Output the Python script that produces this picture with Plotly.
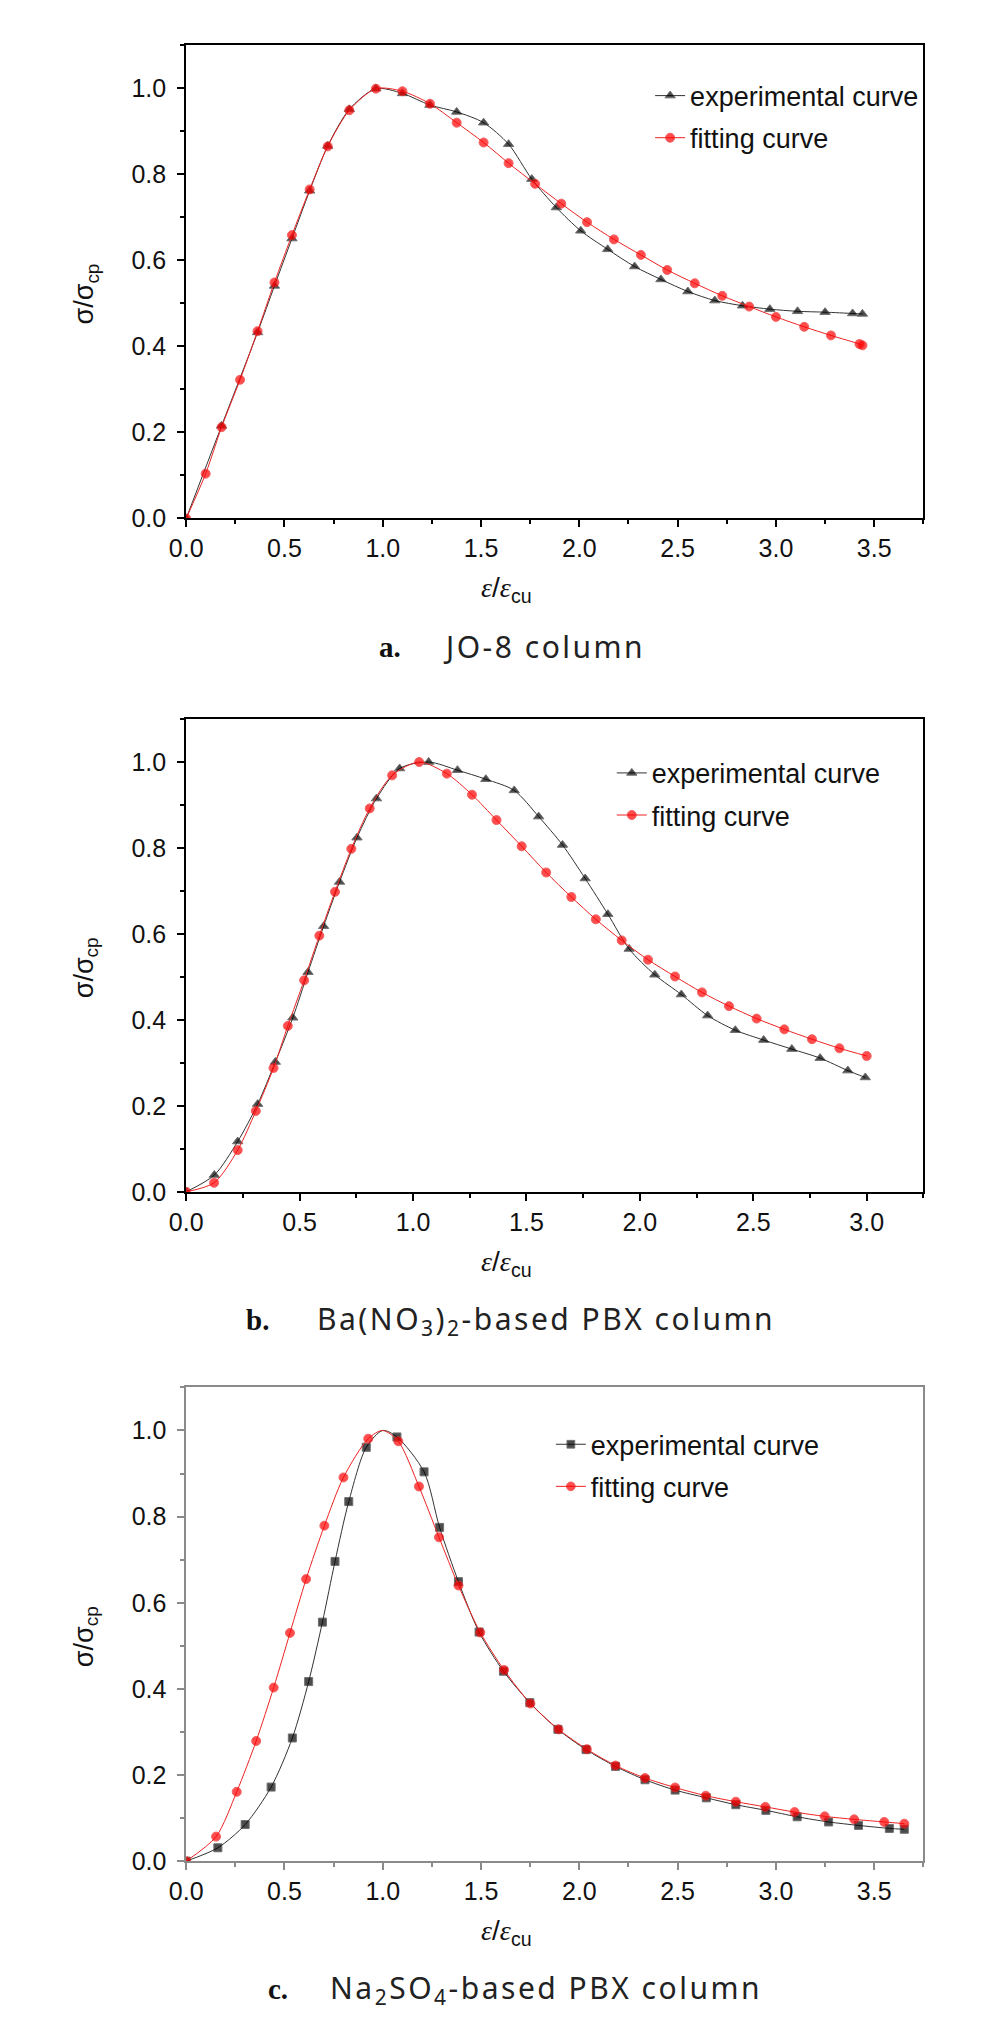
import plotly.graph_objects as go

# ---- data (x = eps/eps_cu, y = sigma/sigma_cp) ----

# a. JO-8 column
a_exp_x = [0.0, 0.18, 0.363, 0.449, 0.538, 0.628, 0.72, 0.83, 0.965, 1.10, 1.24, 1.376, 1.513,
           1.64, 1.758, 1.883, 2.007, 2.144, 2.281, 2.415, 2.552, 2.689, 2.83, 2.969, 3.11,
           3.25, 3.39, 3.44]
a_exp_y = [0.0, 0.215, 0.432, 0.54, 0.65, 0.761, 0.865, 0.95, 0.998, 0.987, 0.96, 0.944, 0.919,
           0.869, 0.788, 0.722, 0.668, 0.625, 0.585, 0.555, 0.527, 0.506, 0.494, 0.486, 0.481,
           0.479, 0.476, 0.475]
a_fit_x = [0.0, 0.099, 0.18, 0.274, 0.363, 0.449, 0.538, 0.628, 0.72, 0.83, 0.965, 1.10, 1.24,
           1.376, 1.513, 1.64, 1.775, 1.908, 2.039, 2.176, 2.313, 2.447, 2.587, 2.727, 2.864,
           3.0, 3.144, 3.28, 3.425, 3.44]
a_fit_y = [0.0, 0.104, 0.212, 0.322, 0.435, 0.548, 0.658, 0.764, 0.864, 0.948, 0.998, 0.992,
           0.963, 0.919, 0.873, 0.825, 0.777, 0.731, 0.688, 0.648, 0.612, 0.577, 0.546, 0.517,
           0.492, 0.468, 0.445, 0.425, 0.405, 0.402]

# b. Ba(NO3)2-based PBX column
b_exp_x = [0.0, 0.124, 0.227, 0.315, 0.393, 0.47, 0.537, 0.606, 0.676, 0.753, 0.839, 0.941,
           1.069, 1.196, 1.321, 1.446, 1.554, 1.659, 1.759, 1.859, 1.953, 2.066, 2.183, 2.299,
           2.421, 2.546, 2.67, 2.795, 2.917, 2.994]
b_exp_y = [0.0, 0.039, 0.117, 0.204, 0.302, 0.405, 0.511, 0.618, 0.721, 0.824, 0.915, 0.985,
           1.0, 0.981, 0.960, 0.934, 0.873, 0.807, 0.729, 0.646, 0.565, 0.505, 0.459, 0.410,
           0.376, 0.353, 0.332, 0.311, 0.282, 0.266]
b_fit_x = [0.0, 0.123, 0.227, 0.307, 0.385, 0.448, 0.52, 0.587, 0.656, 0.728, 0.809, 0.908,
           1.027, 1.149, 1.26, 1.368, 1.479, 1.587, 1.698, 1.806, 1.92, 2.036, 2.155, 2.274,
           2.393, 2.515, 2.637, 2.759, 2.88, 3.0]
b_fit_y = [0.0, 0.021, 0.097, 0.188, 0.288, 0.386, 0.492, 0.596, 0.698, 0.798, 0.892, 0.969,
           1.0, 0.973, 0.924, 0.865, 0.804, 0.743, 0.686, 0.634, 0.585, 0.540, 0.501, 0.464,
           0.432, 0.403, 0.378, 0.355, 0.334, 0.316]

# c. Na2SO4-based PBX column (curves pass the normalised peak (1, 1), drawn without a marker)
c_exp_x = [0.0, 0.161, 0.30, 0.432, 0.54, 0.623, 0.693, 0.757, 0.827, 0.916, 1.0, 1.072, 1.21,
           1.289, 1.385, 1.49, 1.614, 1.748, 1.891, 2.034, 2.184, 2.334, 2.487, 2.646, 2.796,
           2.949, 3.108, 3.268, 3.42, 3.577, 3.653]
c_exp_y = [0.0, 0.031, 0.085, 0.172, 0.286, 0.417, 0.555, 0.696, 0.835, 0.961, 1.0, 0.985, 0.904,
           0.775, 0.649, 0.532, 0.441, 0.368, 0.306, 0.259, 0.220, 0.189, 0.165, 0.147, 0.131,
           0.118, 0.103, 0.091, 0.083, 0.076, 0.074]
c_fit_x = [0.0, 0.152, 0.257, 0.356, 0.445, 0.528, 0.61, 0.703, 0.80, 0.926, 1.0, 1.079, 1.184,
           1.286, 1.385, 1.496, 1.617, 1.751, 1.894, 2.038, 2.184, 2.334, 2.487, 2.643, 2.796,
           2.946, 3.095, 3.248, 3.398, 3.551, 3.653]
c_fit_y = [0.0, 0.057, 0.161, 0.279, 0.403, 0.530, 0.655, 0.779, 0.891, 0.981, 1.0, 0.975, 0.870,
           0.752, 0.640, 0.531, 0.444, 0.366, 0.306, 0.260, 0.222, 0.193, 0.171, 0.152, 0.138,
           0.126, 0.114, 0.104, 0.097, 0.091, 0.087]
c_unmarked = (1.0, 1.0)

series_names = ["experimental curve", "fitting curve"]
captions = [("a.", "JO-8 column"),
            ("b.", "Ba(NO<sub>3</sub>)<sub>2</sub>-based PBX column"),
            ("c.", "Na<sub>2</sub>SO<sub>4</sub>-based PBX column")]

# ---- layout in pixels ----
W, H = 994, 2032
SANS = "Liberation Sans, Arial, sans-serif"
CAP_FONT = "Noto Sans, Open Sans, sans-serif"


def fx(p):
    return p / W


def fy(p):
    return 1 - p / H


def sizes(xs, ys, size, skip=None):
    # marker size per point; the unmarked peak point gets no marker
    return [0 if skip is not None and (x, y) == skip else size for x, y in zip(xs, ys)]


panels = [
    dict(exp=(a_exp_x, a_exp_y), fit=(a_fit_x, a_fit_y), sym="triangle-up", top=37, bot=514,
         xmax=3.75, axcol="#000000", axw=2, leg=(636, 64), cap_l=358, cap_c=528, skip=None),
    dict(exp=(b_exp_x, b_exp_y), fit=(b_fit_x, b_fit_y), sym="triangle-up", top=716, bot=1192,
         xmax=3.25, axcol="#000000", axw=2, leg=(597, 746), cap_l=223, cap_c=530, skip=None),
    dict(exp=(c_exp_x, c_exp_y), fit=(c_fit_x, c_fit_y), sym="square", top=1389, bot=1866,
         xmax=3.75, axcol="#8a8a8a", axw=1.5, leg=(535, 1422), cap_l=245, cap_c=530,
         skip=c_unmarked),
]
LEFT, RIGHT = 164, 914

fig = go.Figure()
annotations = []
layout = dict(width=W, height=H, margin=dict(l=0, r=0, t=0, b=0),
              paper_bgcolor="white", plot_bgcolor="white", showlegend=True)

for i, p in enumerate(panels):
    n = "" if i == 0 else str(i + 1)
    legname = "legend" + n
    ex, ey = p["exp"]
    fx_, fy_ = p["fit"]
    esize = 8 if p["sym"] == "square" else 9
    fig.add_trace(go.Scatter(
        x=ex, y=ey, name=series_names[0], mode="lines+markers",
        line=dict(color="#333333", width=1, shape="spline", smoothing=0.8),
        marker=dict(symbol=p["sym"], size=sizes(ex, ey, esize, p["skip"]), color="black"),
        xaxis="x" + n, yaxis="y" + n, legend=legname, legendgroup="e" + n))
    fig.add_trace(go.Scatter(
        x=fx_, y=fy_, name=series_names[1], mode="lines+markers",
        line=dict(color="#ee2222", width=1, shape="spline", smoothing=0.8),
        marker=dict(symbol="circle", size=sizes(fx_, fy_, 9, p["skip"]), color="#ff0000"),
        xaxis="x" + n, yaxis="y" + n, legend=legname, legendgroup="f" + n))

    ax_common = dict(showline=True, linecolor=p["axcol"], linewidth=p["axw"], mirror=True,
                     ticks="outside", ticklen=7, tickwidth=1.5, tickcolor=p["axcol"],
                     showgrid=False, zeroline=False, tickformat=".1f",
                     tickfont=dict(family=SANS, size=25, color="#111111"))
    layout["xaxis" + n] = dict(ax_common, domain=[fx(LEFT), fx(RIGHT)], range=[0, p["xmax"]],
                               dtick=0.5, anchor="y" + n, ticklabelstandoff=0,
                               minor=dict(ticks="outside", ticklen=4, dtick=0.25,
                                          tickcolor=p["axcol"], tickwidth=1.5))
    layout["yaxis" + n] = dict(ax_common, domain=[fy(p["bot"]), fy(p["top"])], range=[0, 1.1],
                               dtick=0.2, anchor="x" + n, ticklabelstandoff=6,
                               minor=dict(ticks="outside", ticklen=4, dtick=0.1,
                                          tickcolor=p["axcol"], tickwidth=1.5))
    layout[legname] = dict(x=fx(p["leg"][0]), y=fy(p["leg"][1]), xanchor="left", yanchor="top",
                           bgcolor="rgba(0,0,0,0)", font=dict(family=SANS, size=27, color="#111"),
                           traceorder="grouped", tracegroupgap=4, itemwidth=30)

    mid = (p["top"] + p["bot"]) / 2
    base = dict(xref="paper", yref="paper", showarrow=False, yanchor="middle")
    annotations.append(dict(base, text="σ/σ<sub>cp</sub>", textangle=-90, x=fx(62),
                            y=fy(mid + 12), xanchor="center",
                            font=dict(family=SANS, size=27, color="#111")))
    annotations.append(dict(
        base,
        text='<span style="font-family:Liberation Serif"><i>ε</i></span>/'
             '<span style="font-family:Liberation Serif"><i>ε</i></span><sub>cu</sub>',
        x=fx(490), y=fy(p["bot"] + 72), xanchor="center",
        font=dict(family=SANS, size=28, color="#111")))
    annotations.append(dict(base, text="<b>" + captions[i][0] + "</b>", x=fx(p["cap_l"]),
                            y=fy(p["bot"] + 129), xanchor="left",
                            font=dict(family="Liberation Serif, serif", size=29, color="#111")))
    annotations.append(dict(base,
                            text='<span style="letter-spacing:2.5px">' + captions[i][1] + "</span>",
                            x=fx(p["cap_c"]), y=fy(p["bot"] + 129), xanchor="center",
                            font=dict(family=CAP_FONT, size=30, color="#222")))

layout["annotations"] = annotations
fig.update_layout(**layout)
fig.write_html("out.html")
